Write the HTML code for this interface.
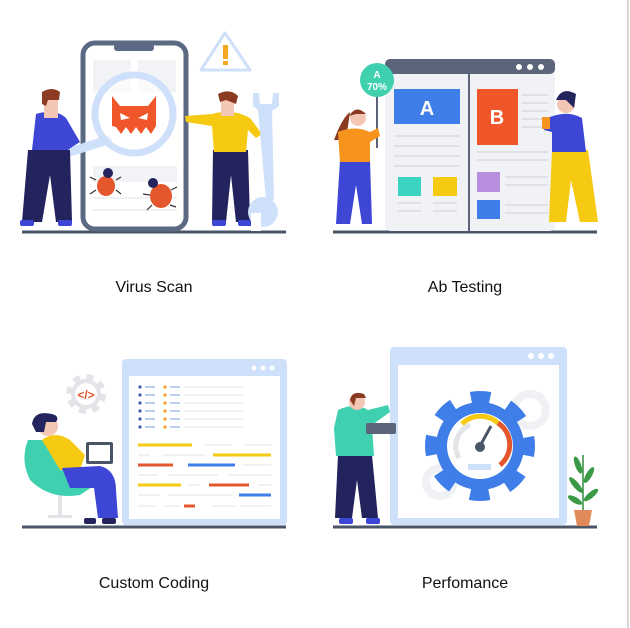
<!DOCTYPE html>
<html><head><meta charset="utf-8"><style>
html,body{margin:0;padding:0;background:#fff;width:630px;height:628px;overflow:hidden}
svg{display:block}
text{font-family:"Liberation Sans",sans-serif}
</style></head><body>
<svg width="630" height="628" viewBox="0 0 630 628" xmlns="http://www.w3.org/2000/svg">
<rect width="630" height="628" fill="#fff"/>
<line x1="628" y1="0" x2="628" y2="628" stroke="#d8d8d8" stroke-width="2"/>

<!-- PANEL 1: Virus Scan -->
<line x1="22" y1="232" x2="286" y2="232" stroke="#4a5568" stroke-width="3"/>
<rect x="83" y="43" width="103" height="186" rx="12" fill="#fff" stroke="#5b6a82" stroke-width="5"/>
<rect x="114" y="44" width="40" height="7" rx="3" fill="#5b6a82"/>
<rect x="93" y="60" width="38" height="32" fill="#f2f3f6"/>
<rect x="138" y="60" width="38" height="32" fill="#f2f3f6"/>
<rect x="93" y="166" width="84" height="16" fill="#f2f3f6"/>
<line x1="93" y1="198" x2="177" y2="198" stroke="#f0f1f4" stroke-width="2"/>
<line x1="93" y1="210" x2="177" y2="210" stroke="#f0f1f4" stroke-width="2"/>
<!-- warning -->
<path d="M225 33 L250 70 L201 70 Z" fill="#fff" stroke="#cfe0fa" stroke-width="3" stroke-linejoin="round"/>
<rect x="223" y="45" width="5" height="14" fill="#f5a623"/><rect x="223" y="61" width="5" height="4" fill="#f5a623"/>
<!-- magnifier -->
<line x1="107" y1="140" x2="58" y2="156" stroke="#cfe0fa" stroke-width="9" stroke-linecap="round"/>
<circle cx="134" cy="114" r="39" fill="#fff" fill-opacity="0.6" stroke="#cfe0fa" stroke-width="7"/>
<path d="M112 96 L120 106 L148 106 L156 96 L156 126 L151 134 L146 127 L141 134 L136 127 L131 134 L126 127 L121 134 L116 127 L112 126 Z" fill="#f0562a"/>
<path d="M120 113 L130 118 L121 120Z M148 113 L138 118 L147 120Z" fill="#fff"/>
<!-- bugs -->
<ellipse cx="106" cy="186" rx="9" ry="10" fill="#e4572e"/><circle cx="108" cy="173" r="5" fill="#23235e"/>
<path d="M96 180 L90 177 M96 190 L90 194 M116 180 L121 177 M116 190 L121 194" stroke="#333" stroke-width="1.2"/>
<ellipse cx="161" cy="196" rx="11" ry="12" fill="#e4572e"/><circle cx="153" cy="183" r="5" fill="#23235e"/>
<path d="M150 195 L143 194 M152 205 L147 210 M171 190 L177 187 M170 205 L176 207" stroke="#333" stroke-width="1.2"/>
<!-- left person -->
<path d="M28 150 L70 150 L72 222 L56 222 L50 175 L42 222 L22 222 Z" fill="#23235e"/>
<rect x="20" y="220" width="14" height="6" rx="2" fill="#3e46d6"/><rect x="58" y="220" width="14" height="6" rx="2" fill="#3e46d6"/>
<path d="M36 114 Q55 108 66 118 L80 142 L72 147 L68 150 L32 150 Z" fill="#3e46d6"/>
<rect x="44" y="100" width="14" height="18" fill="#f4c7b5"/>
<path d="M42 92 Q52 86 60 92 L59 100 L48 100 L46 106 L42 104Z" fill="#8a3b22"/>
<!-- right person -->
<path d="M213 150 L248 150 L250 222 L236 222 L231 175 L226 222 L212 222 Z" fill="#23235e"/>
<rect x="212" y="220" width="14" height="6" rx="2" fill="#3e46d6"/><rect x="238" y="220" width="14" height="6" rx="2" fill="#3e46d6"/>
<path d="M185 116 L212 114 Q232 108 250 118 L262 134 L256 138 L248 130 L246 152 L214 152 L212 126 L186 122 Z" fill="#f6c912"/>
<rect x="221" y="100" width="13" height="16" fill="#f4c7b5"/>
<path d="M218 94 Q230 88 238 96 L236 104 L226 100 L220 102Z" fill="#8a3b22"/>
<!-- wrench -->
<path d="M258 110 L272 110 L274 200 L266 200 Z" fill="#cfe0fa"/>
<path d="M253 93 L253 106 Q265 118 279 106 L279 93 L273 93 L272 104 L260 104 L259 93 Z" fill="#cfe0fa"/>
<circle cx="263" cy="212" r="15" fill="#cfe0fa"/><rect x="251" y="213" width="10" height="18" fill="#fff"/>
<text x="154" y="292" font-size="16" text-anchor="middle" fill="#111">Virus Scan</text>

<!-- PANEL 2: Ab Testing -->
<line x1="333" y1="232" x2="597" y2="232" stroke="#4a5568" stroke-width="3"/>
<rect x="385" y="59" width="170" height="172" rx="5" fill="#f1f2f6"/>
<rect x="385" y="59" width="170" height="15" rx="5" fill="#5b6478"/>
<circle cx="519" cy="67" r="3" fill="#fff"/><circle cx="530" cy="67" r="3" fill="#fff"/><circle cx="541" cy="67" r="3" fill="#fff"/>
<line x1="469" y1="74" x2="469" y2="231" stroke="#5b6478" stroke-width="2"/>
<rect x="394" y="89" width="66" height="35" fill="#3f7ee8"/>
<text x="427" y="115" font-size="20" font-weight="bold" text-anchor="middle" fill="#fff">A</text>
<rect x="477" y="89" width="41" height="56" fill="#f0562a"/>
<text x="497" y="124" font-size="20" font-weight="bold" text-anchor="middle" fill="#fff">B</text>
<g stroke="#dfe1e7" stroke-width="2">
<line x1="394" y1="136" x2="460" y2="136"/><line x1="394" y1="146" x2="460" y2="146"/><line x1="394" y1="156" x2="460" y2="156"/><line x1="394" y1="166" x2="460" y2="166"/>
<line x1="522" y1="95" x2="548" y2="95"/><line x1="522" y1="103" x2="548" y2="103"/><line x1="522" y1="111" x2="548" y2="111"/><line x1="522" y1="119" x2="548" y2="119"/><line x1="522" y1="127" x2="548" y2="127"/>
<line x1="477" y1="152" x2="548" y2="152"/><line x1="477" y1="160" x2="548" y2="160"/>
<line x1="398" y1="203" x2="421" y2="203"/><line x1="398" y1="211" x2="421" y2="211"/><line x1="433" y1="203" x2="457" y2="203"/><line x1="433" y1="211" x2="457" y2="211"/>
<line x1="505" y1="177" x2="548" y2="177"/><line x1="505" y1="185" x2="548" y2="185"/><line x1="505" y1="205" x2="548" y2="205"/><line x1="505" y1="213" x2="548" y2="213"/>
</g>
<rect x="398" y="177" width="23" height="19" fill="#3ad4c0"/>
<rect x="433" y="177" width="24" height="19" fill="#f6c912"/>
<rect x="477" y="172" width="23" height="20" fill="#b88ee0"/>
<rect x="477" y="200" width="23" height="19" fill="#3f7ee8"/>
<line x1="377" y1="95" x2="377" y2="148" stroke="#5b6478" stroke-width="2"/>
<circle cx="377" cy="80" r="17" fill="#3fd0b0"/>
<text x="377" y="78" font-size="10" font-weight="bold" text-anchor="middle" fill="#fff">A</text>
<text x="377" y="90" font-size="10" font-weight="bold" text-anchor="middle" fill="#fff">70%</text>
<!-- woman -->
<path d="M340 160 L370 160 L372 224 L362 224 L356 185 L350 224 L336 224 Z" fill="#3e46d6"/>
<path d="M350 112 Q342 118 334 140 L346 140 Z" fill="#8a3b22"/>
<path d="M338 132 Q355 125 370 132 L378 128 L380 136 L370 142 L370 162 L340 162 Z" fill="#f7941d"/>
<circle cx="358" cy="118" r="8" fill="#f4c7b5"/>
<path d="M349 116 Q356 104 366 114 L356 114Z" fill="#8a3b22"/>
<!-- man -->
<path d="M552 150 L588 150 L598 222 L580 222 L571 180 L566 222 L549 222 Z" fill="#f6c912"/>
<path d="M550 117 Q568 110 582 118 L586 152 L552 152 L552 132 L544 130 L546 122Z" fill="#3e46d6"/>
<rect x="542" y="117" width="8" height="12" fill="#f7941d"/>
<circle cx="566" cy="104" r="9" fill="#f4c7b5"/>
<path d="M556 100 Q562 86 576 94 L574 108 L566 100Z" fill="#23235e"/>
<text x="465" y="292" font-size="16" text-anchor="middle" fill="#111">Ab Testing</text>

<!-- PANEL 3: Custom Coding -->
<line x1="22" y1="527" x2="286" y2="527" stroke="#4a5568" stroke-width="3"/>
<rect x="122" y="359" width="165" height="166" rx="4" fill="#cfe0fa"/>
<rect x="129" y="376" width="151" height="143" fill="#fff"/>
<circle cx="254" cy="368" r="2.5" fill="#fff"/><circle cx="263" cy="368" r="2.5" fill="#fff"/><circle cx="272" cy="368" r="2.5" fill="#fff"/>
<g>
<circle cx="140" cy="387" r="1.6" fill="#3f5ea8"/><circle cx="140" cy="395" r="1.6" fill="#3f5ea8"/><circle cx="140" cy="403" r="1.6" fill="#3f5ea8"/><circle cx="140" cy="411" r="1.6" fill="#3f5ea8"/><circle cx="140" cy="419" r="1.6" fill="#3f5ea8"/><circle cx="140" cy="427" r="1.6" fill="#3f5ea8"/>
<circle cx="165" cy="387" r="1.6" fill="#f5a623"/><circle cx="165" cy="395" r="1.6" fill="#f5a623"/><circle cx="165" cy="403" r="1.6" fill="#f5a623"/><circle cx="165" cy="411" r="1.6" fill="#f5a623"/><circle cx="165" cy="419" r="1.6" fill="#f5a623"/><circle cx="165" cy="427" r="1.6" fill="#f5a623"/>
</g>
<g stroke="#b8cdf0" stroke-width="2"><line x1="145" y1="387" x2="155" y2="387"/><line x1="145" y1="395" x2="155" y2="395"/><line x1="145" y1="403" x2="155" y2="403"/><line x1="145" y1="411" x2="155" y2="411"/><line x1="145" y1="419" x2="155" y2="419"/><line x1="145" y1="427" x2="155" y2="427"/>
<line x1="170" y1="387" x2="180" y2="387"/><line x1="170" y1="395" x2="180" y2="395"/><line x1="170" y1="403" x2="180" y2="403"/><line x1="170" y1="411" x2="180" y2="411"/><line x1="170" y1="419" x2="180" y2="419"/><line x1="170" y1="427" x2="180" y2="427"/></g>
<g stroke="#eceef2" stroke-width="1.5"><line x1="185" y1="387" x2="243" y2="387"/><line x1="185" y1="395" x2="243" y2="395"/><line x1="185" y1="403" x2="243" y2="403"/><line x1="185" y1="411" x2="243" y2="411"/><line x1="185" y1="419" x2="243" y2="419"/><line x1="185" y1="427" x2="243" y2="427"/>
<line x1="205" y1="445" x2="232" y2="445"/><line x1="245" y1="445" x2="271" y2="445"/><line x1="138" y1="455" x2="150" y2="455"/><line x1="163" y1="455" x2="205" y2="455"/><line x1="243" y1="465" x2="271" y2="465"/><line x1="138" y1="475" x2="158" y2="475"/><line x1="168" y1="475" x2="218" y2="475"/><line x1="228" y1="475" x2="271" y2="475"/><line x1="188" y1="485" x2="200" y2="485"/><line x1="258" y1="485" x2="271" y2="485"/><line x1="138" y1="495" x2="160" y2="495"/><line x1="168" y1="495" x2="232" y2="495"/><line x1="138" y1="506" x2="155" y2="506"/><line x1="165" y1="506" x2="180" y2="506"/><line x1="212" y1="506" x2="235" y2="506"/><line x1="240" y1="506" x2="271" y2="506"/></g>
<g stroke-width="3">
<line x1="138" y1="445" x2="192" y2="445" stroke="#f6c912"/>
<line x1="213" y1="455" x2="271" y2="455" stroke="#f6c912"/>
<line x1="138" y1="465" x2="173" y2="465" stroke="#e4572e"/>
<line x1="188" y1="465" x2="235" y2="465" stroke="#3f7ee8"/>
<line x1="138" y1="485" x2="181" y2="485" stroke="#f6c912"/>
<line x1="209" y1="485" x2="249" y2="485" stroke="#e4572e"/>
<line x1="239" y1="495" x2="271" y2="495" stroke="#3f7ee8"/>
<line x1="184" y1="506" x2="195" y2="506" stroke="#e4572e"/>
</g>
<!-- gear icon -->
<circle cx="86" cy="394" r="17" fill="none" stroke="#e2e4e8" stroke-width="6" stroke-dasharray="7 6.4"/>
<circle cx="86" cy="394" r="15" fill="#e2e4e8"/><circle cx="86" cy="394" r="11" fill="#fff"/>
<text x="86" y="399" font-size="12" font-weight="bold" text-anchor="middle" fill="#e4572e">&lt;/&gt;</text>
<!-- chair person -->
<rect x="58" y="495" width="4" height="22" fill="#e2e4e8"/><rect x="48" y="515" width="24" height="3" fill="#e2e4e8"/>
<path d="M28 440 Q20 460 30 480 Q50 500 80 495 L95 485 L70 470 L50 440 Z" fill="#3fd0b0"/>
<path d="M42 440 Q55 430 70 440 L85 455 L80 470 L60 470 Z" fill="#f6c912"/>
<path d="M62 468 L100 466 Q116 470 116 490 L118 518 L98 518 L94 488 L70 488 Z" fill="#3e46d6"/>
<rect x="86" y="442" width="27" height="22" rx="2" fill="#4a5568"/><rect x="89" y="445" width="21" height="16" fill="#fff"/>
<circle cx="48" cy="426" r="10" fill="#f4c7b5"/>
<path d="M32 424 Q34 410 52 414 Q60 416 56 422 L46 422 L44 432 L36 432Z" fill="#23235e"/>
<rect x="84" y="518" width="12" height="6" rx="2" fill="#23235e"/><rect x="102" y="518" width="14" height="6" rx="2" fill="#23235e"/>
<text x="154" y="588" font-size="16" text-anchor="middle" fill="#111">Custom Coding</text>

<!-- PANEL 4: Performance -->
<line x1="333" y1="527" x2="597" y2="527" stroke="#4a5568" stroke-width="3"/>
<rect x="390" y="347" width="177" height="178" rx="4" fill="#cfe0fa"/>
<rect x="398" y="365" width="161" height="153" fill="#fff"/>
<circle cx="531" cy="356" r="3" fill="#fff"/><circle cx="541" cy="356" r="3" fill="#fff"/><circle cx="551" cy="356" r="3" fill="#fff"/>
<circle cx="530" cy="410" r="16" fill="none" stroke="#f0f1f4" stroke-width="8"/>
<circle cx="440" cy="482" r="14" fill="none" stroke="#f0f1f4" stroke-width="8"/>
<circle cx="480" cy="446" r="47" fill="none" stroke="#3f7ee8" stroke-width="16" stroke-dasharray="18.5 18.4" stroke-dashoffset="9"/>
<circle cx="480" cy="446" r="44" fill="#3f7ee8"/>
<circle cx="480" cy="446" r="33" fill="#fff"/>
<path d="M459 458 A23 23 0 0 1 470 425" fill="none" stroke="#e2e4e8" stroke-width="5"/>
<path d="M462 424 A26 26 0 0 1 498 423" fill="none" stroke="#f6c912" stroke-width="5"/>
<path d="M498 423 A26 26 0 0 1 500 465" fill="none" stroke="#e4572e" stroke-width="5"/>
<line x1="480" y1="446" x2="491" y2="426" stroke="#4a5568" stroke-width="3"/>
<circle cx="480" cy="447" r="5" fill="#4a5568"/>
<rect x="468" y="464" width="23" height="6" fill="#cfe0fa"/>
<!-- person -->
<path d="M338 455 L372 455 L378 518 L362 518 L357 480 L352 518 L335 518 Z" fill="#23235e"/>
<path d="M338 410 Q355 402 368 410 L388 405 L390 412 L372 425 L374 456 L336 456 L334 428 Z" fill="#3fd0b0"/>
<rect x="366" y="423" width="30" height="11" rx="2" fill="#5b6478"/>
<circle cx="357" cy="402" r="8" fill="#f4c7b5"/>
<path d="M350 400 Q352 390 364 394 L366 398 L356 398 L354 406Z" fill="#8a3b22"/>
<rect x="339" y="518" width="14" height="6" rx="2" fill="#3e46d6"/><rect x="366" y="518" width="14" height="6" rx="2" fill="#3e46d6"/>
<!-- plant -->
<path d="M574 510 L592 510 L589 526 L577 526 Z" fill="#e08a5a"/>
<path d="M583 510 L583 455" stroke="#2e8b3a" stroke-width="1.5"/>
<ellipse cx="578" cy="465" rx="3" ry="9" fill="#3a9a45" transform="rotate(-20 578 465)"/>
<ellipse cx="589" cy="475" rx="3" ry="9" fill="#3a9a45" transform="rotate(30 589 475)"/>
<ellipse cx="576" cy="485" rx="3" ry="10" fill="#3a9a45" transform="rotate(-40 576 485)"/>
<ellipse cx="591" cy="495" rx="3" ry="9" fill="#3a9a45" transform="rotate(50 591 495)"/>
<ellipse cx="575" cy="500" rx="3" ry="8" fill="#3a9a45" transform="rotate(-60 575 500)"/>
<text x="465" y="588" font-size="16" text-anchor="middle" fill="#111">Perfomance</text>
</svg>
</body></html>
